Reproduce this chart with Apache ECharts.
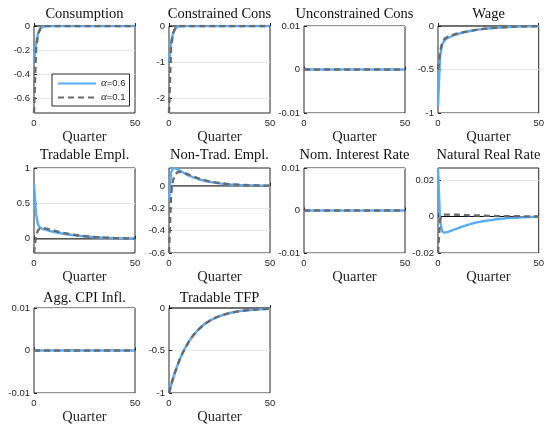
<!DOCTYPE html>
<html>
<head>
<meta charset="utf-8">
<script src="https://cdn.jsdelivr.net/npm/echarts@6/dist/echarts.min.js"></script>
<style>
  html, body { margin: 0; padding: 0; background: #ffffff; }
  #chart { width: 547px; height: 426px; }
</style>
</head>
<body>
<div id="chart"></div>
<script>
// Impulse responses over 50 quarters for two values of alpha.
const quarters = [0, 1, 2, 3, 4, 5, 6, 7, 8, 10, 12, 14, 16, 18, 20, 23, 26, 30, 35, 40, 45, 50];
const seriesNames = ['α=0.6', 'α=0.1'];
const panelTitles = ['Consumption', 'Constrained Cons', 'Unconstrained Cons', 'Wage',
  'Tradable Empl.', 'Non-Trad. Empl.', 'Nom. Interest Rate', 'Natural Real Rate',
  'Agg. CPI Infl.', 'Tradable TFP'];
const xAxisName = 'Quarter';
const xTicks = [0, 50];

// y-axis extents and tick labels for each panel
const yMins = [-0.72, -2.4, -0.01, -1, -0.2, -0.6, -0.01, -0.02, -0.01, -1];
const yMaxs = [0, 0, 0.01, 0, 1, 0.16, 0.01, 0.0265, 0.01, 0];
const yTicks = [
  [-0.6, -0.4, -0.2, 0],
  [-2, -1, 0],
  [-0.01, 0, 0.01],
  [-1, -0.5, 0],
  [0, 0.5, 1],
  [-0.6, -0.4, -0.2, 0],
  [-0.01, 0, 0.01],
  [-0.02, 0, 0.02],
  [-0.01, 0, 0.01],
  [-1, -0.5, 0]
];

// alpha = 0.6
const consumptionHigh = [-0.30, -0.14, -0.06, -0.025, -0.01, -0.004, -0.001, 0, 0, 0, 0, 0, 0, 0, 0, 0, 0, 0, 0, 0, 0, 0];
const constrainedHigh = [-1.0, -0.45, -0.2, -0.08, -0.03, -0.012, -0.004, -0.001, 0, 0, 0, 0, 0, 0, 0, 0, 0, 0, 0, 0, 0, 0];
const unconstrainedHigh = [0, 0, 0, 0, 0, 0, 0, 0, 0, 0, 0, 0, 0, 0, 0, 0, 0, 0, 0, 0, 0, 0];
const wageHigh = [-0.92, -0.35, -0.22, -0.17, -0.15, -0.135, -0.125, -0.115, -0.105, -0.09, -0.078, -0.067, -0.057, -0.049, -0.042, -0.033, -0.026, -0.018, -0.011, -0.007, -0.004, -0.002];
const tradEmplHigh = [0.78, 0.35, 0.2, 0.16, 0.145, 0.135, 0.127, 0.118, 0.11, 0.097, 0.086, 0.075, 0.065, 0.057, 0.049, 0.04, 0.032, 0.023, 0.015, 0.01, 0.006, 0.004];
const nonTradEmplHigh = [-0.14, 0.12, 0.16, 0.158, 0.15, 0.14, 0.13, 0.12, 0.11, 0.092, 0.077, 0.064, 0.053, 0.044, 0.036, 0.027, 0.02, 0.013, 0.008, 0.005, 0.003, 0.002];
const nomRateHigh = [0, 0, 0, 0, 0, 0, 0, 0, 0, 0, 0, 0, 0, 0, 0, 0, 0, 0, 0, 0, 0, 0];
const natRateHigh = [0.0265, -0.002, -0.008, -0.0088, -0.0087, -0.0084, -0.008, -0.0076, -0.0072, -0.0064, -0.0056, -0.0049, -0.0042, -0.0036, -0.0031, -0.0025, -0.002, -0.0014, -0.0009, -0.0006, -0.0004, -0.0002];
const cpiHigh = [0, 0, 0, 0, 0, 0, 0, 0, 0, 0, 0, 0, 0, 0, 0, 0, 0, 0, 0, 0, 0, 0];
const tfpHigh = [-1, -0.91, -0.828, -0.754, -0.686, -0.624, -0.568, -0.517, -0.47, -0.389, -0.322, -0.267, -0.221, -0.183, -0.152, -0.114, -0.086, -0.059, -0.037, -0.023, -0.014, -0.009];

// alpha = 0.1
const consumptionLow = [-0.72, -0.2, -0.07, -0.025, -0.008, -0.003, -0.001, 0, 0, 0, 0, 0, 0, 0, 0, 0, 0, 0, 0, 0, 0, 0];
const constrainedLow = [-2.4, -0.6, -0.2, -0.07, -0.025, -0.008, -0.002, 0, 0, 0, 0, 0, 0, 0, 0, 0, 0, 0, 0, 0, 0, 0];
const unconstrainedLow = [0, 0, 0, 0, 0, 0, 0, 0, 0, 0, 0, 0, 0, 0, 0, 0, 0, 0, 0, 0, 0, 0];
const wageLow = [-0.5, -0.3, -0.2, -0.155, -0.135, -0.122, -0.113, -0.105, -0.098, -0.085, -0.074, -0.064, -0.055, -0.047, -0.04, -0.032, -0.025, -0.017, -0.011, -0.007, -0.004, -0.002];
const tradEmplLow = [-0.2, 0.05, 0.12, 0.15, 0.155, 0.15, 0.145, 0.138, 0.13, 0.115, 0.1, 0.088, 0.077, 0.066, 0.057, 0.046, 0.036, 0.026, 0.017, 0.011, 0.007, 0.004];
const nonTradEmplLow = [-0.6, -0.08, 0.05, 0.1, 0.12, 0.125, 0.123, 0.118, 0.112, 0.098, 0.084, 0.071, 0.06, 0.05, 0.041, 0.031, 0.023, 0.015, 0.009, 0.005, 0.003, 0.002];
const nomRateLow = [0, 0, 0, 0, 0, 0, 0, 0, 0, 0, 0, 0, 0, 0, 0, 0, 0, 0, 0, 0, 0, 0];
const natRateLow = [-0.02, -0.002, 0.0005, 0.001, 0.001, 0.001, 0.001, 0.001, 0.001, 0.0009, 0.0008, 0.0007, 0.0006, 0.0005, 0.0005, 0.0004, 0.0003, 0.0002, 0.0001, 0.0001, 0, 0];
const cpiLow = [0, 0, 0, 0, 0, 0, 0, 0, 0, 0, 0, 0, 0, 0, 0, 0, 0, 0, 0, 0, 0, 0];
const tfpLow = [-1, -0.91, -0.828, -0.754, -0.686, -0.624, -0.568, -0.517, -0.47, -0.389, -0.322, -0.267, -0.221, -0.183, -0.152, -0.114, -0.086, -0.059, -0.037, -0.023, -0.014, -0.009];

const highSeries = [consumptionHigh, constrainedHigh, unconstrainedHigh, wageHigh, tradEmplHigh,
  nonTradEmplHigh, nomRateHigh, natRateHigh, cpiHigh, tfpHigh];
const lowSeries = [consumptionLow, constrainedLow, unconstrainedLow, wageLow, tradEmplLow,
  nonTradEmplLow, nomRateLow, natRateLow, cpiLow, tfpLow];

// ---- layout and styling ----
const colLeft = [34, 169, 304, 438];
const plotWidth = 101;
const rowTop = [26, 168, 308];
const rowHeight = [87, 85, 86];
const titleY = [14, 155, 298];

const BLUE = '#5aabf7';
const GRAY = '#6b6b6b';
const INK = '#262626';
const SERIF = '"Liberation Serif", "Times New Roman", serif';
const SANS = '"Liberation Sans", Arial, Helvetica, sans-serif';

const pairs = (ys) => quarters.map((q, i) => [q, ys[i]]);
const fmt = (v) => String(parseFloat(Number(v).toPrecision(6)));

const grids = [], xAxes = [], yAxes = [], series = [], graphics = [];

panelTitles.forEach((title, i) => {
  const r = Math.floor(i / 4), c = i % 4;
  grids.push({
    left: colLeft[c], top: rowTop[r], width: plotWidth, height: rowHeight[r],
    show: true, borderColor: INK, borderWidth: 1, backgroundColor: 'transparent'
  });
  xAxes.push({
    type: 'value', gridIndex: i, min: xTicks[0], max: xTicks[xTicks.length - 1],
    interval: xTicks[xTicks.length - 1] - xTicks[0],
    name: xAxisName, nameLocation: 'middle', nameGap: 17,
    nameTextStyle: { fontFamily: SERIF, fontSize: 14.5, color: INK },
    axisLine: { show: false },
    axisTick: { show: true, inside: true, length: 3, lineStyle: { color: INK } },
    axisLabel: { margin: 5, fontFamily: SANS, fontSize: 9.5, color: INK, formatter: fmt },
    splitLine: { show: false }
  });
  const ticks = yTicks[i];
  yAxes.push({
    type: 'value', gridIndex: i, min: yMins[i], max: yMaxs[i],
    axisLine: { show: false },
    axisTick: { show: true, inside: true, length: 3, lineStyle: { color: INK }, customValues: ticks },
    axisLabel: { margin: 4, fontFamily: SANS, fontSize: 9.5, color: INK, customValues: ticks, formatter: fmt },
    splitLine: { show: true, lineStyle: { color: '#e8e8e8', width: 1 } }
  });
  graphics.push({
    type: 'text', x: colLeft[c] + plotWidth / 2, y: titleY[r],
    style: { text: title, fontFamily: SERIF, fontSize: 14.5, fill: '#111111',
      textAlign: 'center', textVerticalAlign: 'middle' }
  });
  // zero reference line across the quarter range
  series.push({
    type: 'line', name: 'zero', xAxisIndex: i, yAxisIndex: i, silent: true,
    data: [[xTicks[0], 0], [xTicks[xTicks.length - 1], 0]],
    showSymbol: false, symbol: 'none', z: 1,
    lineStyle: { color: '#000000', width: 1 }
  });
  series.push({
    type: 'line', name: seriesNames[0], xAxisIndex: i, yAxisIndex: i,
    data: pairs(highSeries[i]), symbol: 'none', z: 2, clip: true,
    lineStyle: { color: BLUE, width: 2.4 }, itemStyle: { color: BLUE }
  });
  series.push({
    type: 'line', name: seriesNames[1], xAxisIndex: i, yAxisIndex: i,
    data: pairs(lowSeries[i]), symbol: 'none', z: 3, clip: true,
    lineStyle: { color: GRAY, width: 2.4, type: [6, 4] }, itemStyle: { color: GRAY }
  });
});

const chart = echarts.init(document.getElementById('chart'), null, { renderer: 'canvas' });
chart.setOption({
  animation: false,
  backgroundColor: '#ffffff',
  grid: grids,
  xAxis: xAxes,
  yAxis: yAxes,
  series: series,
  graphic: graphics,
  legend: {
    data: seriesNames,
    left: 52, top: 74, orient: 'vertical',
    selectedMode: false,
    backgroundColor: '#ffffff',
    borderColor: INK, borderWidth: 1,
    padding: [4, 4, 3, 5],
    itemGap: 3, itemWidth: 38, itemHeight: 10,
    itemStyle: { opacity: 0 },
    formatter: (name) => '{a|α}{b|' + name.slice(1) + '}',
    textStyle: {
      rich: {
        a: { fontFamily: SERIF, fontStyle: 'italic', fontSize: 11, color: INK },
        b: { fontFamily: SANS, fontSize: 9.5, color: INK }
      }
    }
  }
});
</script>
</body>
</html>
